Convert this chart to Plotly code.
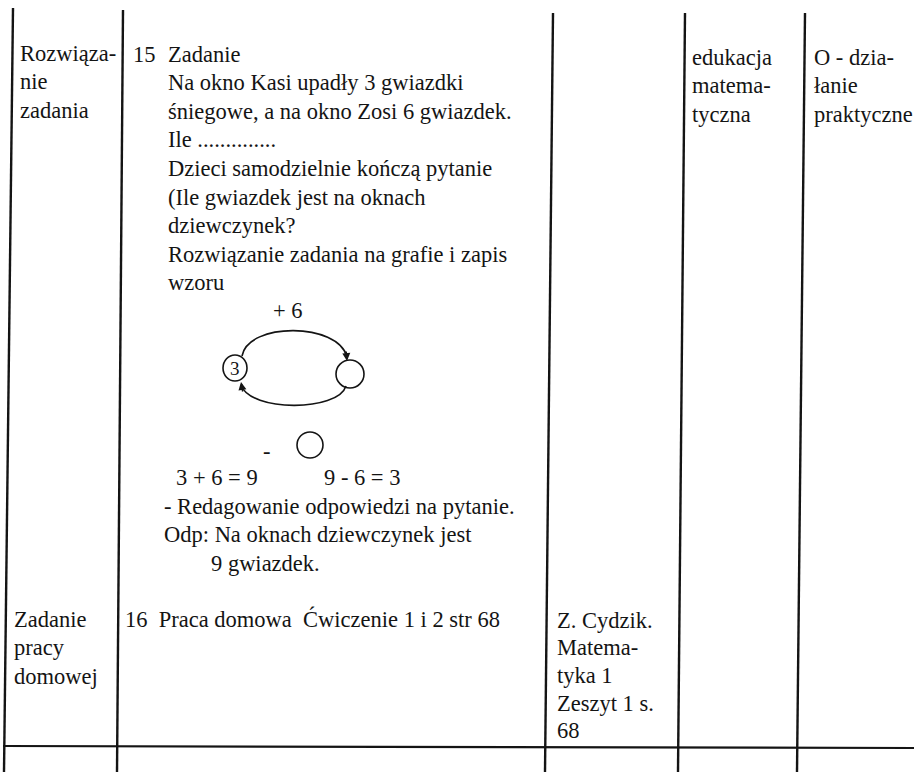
"""Scanned lesson-plan table fragment (Polish maths lesson), redrawn with Plotly."""

import plotly.graph_objects as go

# --- cell contents -------------------------------------------------------
PHASE_ROW1 = ["Rozwiąza-", "nie", "zadania"]
PHASE_ROW2 = ["Zadanie", "pracy", "domowej"]

STEP_ROW1 = "15"
TASK_LINES = [
    "Zadanie",
    "Na okno Kasi upadły 3 gwiazdki",
    "śniegowe, a na okno Zosi 6 gwiazdek.",
    "Ile ..............",
    "Dzieci samodzielnie kończą pytanie",
    "(Ile gwiazdek jest na oknach",
    "dziewczynek?",
    "Rozwiązanie zadania na grafie i zapis",
    "wzoru",
]
GRAPH_OP = "+ 6"
GRAPH_START = "3"
GRAPH_MINUS = "-"
EQUATIONS = ["3 + 6 = 9", "9 - 6 = 3"]
ANSWER_LINES = [
    "- Redagowanie odpowiedzi na pytanie.",
    "Odp: Na oknach dziewczynek jest",
]
ANSWER_TAIL = "9 gwiazdek."
HOMEWORK = "16  Praca domowa  Ćwiczenie 1 i 2 str 68"

AREA_ROW1 = ["edukacja", "matema-", "tyczna"]
AREA_ROW2 = ["Z. Cydzik.", "Matema-", "tyka 1", "Zeszyt 1 s.", "68"]
FORM_ROW1 = ["O - dzia-", "łanie", "praktyczne"]

# --- table rules (the scan is slightly skewed) ---------------------------
RULE_TOP_X = [13, 123, 553, 685, 805]
RULE_BOTTOM_X = [4, 117, 545, 678, 797]
RULE_TOP_Y = [8, 10, 13, 13, 13]
ROW_RULE_Y = (746, 748)

W, H = 914, 772
FONT = "Liberation Serif"
SIZE = 22.5
INK = "#141414"
LEAD = 28.6

fig = go.Figure()


def write(x, y, text, size=SIZE, anchor="left"):
    fig.add_annotation(
        x=x, y=y, text=text, showarrow=False, xanchor=anchor, yanchor="middle",
        font=dict(size=size, color=INK),
    )


def write_block(x, y0, lines, lead=LEAD):
    for i, line in enumerate(lines):
        write(x, y0 + i * lead, line)


# first row
write_block(18, 53, PHASE_ROW1)
write(131, 54, STEP_ROW1)
write_block(166, 54, TASK_LINES)
write_block(690, 57, AREA_ROW1)
write_block(812, 57, FORM_ROW1)

# graph: 3 --(+6)--> ? and back
write(288, 310, GRAPH_OP, anchor="center")
fig.add_shape(type="circle", x0=223, x1=247, y0=355, y1=381, line=dict(color=INK, width=1.6))
write(235, 368, GRAPH_START, size=19, anchor="center")
fig.add_shape(type="circle", x0=336, x1=364, y0=360, y1=388, line=dict(color=INK, width=1.6))
fig.add_shape(
    type="path", path="M 242,356 C 248,322 338,322 347,357",
    line=dict(color=INK, width=1.6),
)
fig.add_shape(
    type="path", path="M 346,386 C 338,412 250,412 241,385",
    line=dict(color=INK, width=1.6),
)
fig.add_annotation(
    x=347, y=361, ax=346, ay=350, axref="x", ayref="y", text="", showarrow=True,
    arrowhead=2, arrowsize=1, arrowwidth=1.6, arrowcolor=INK,
)
fig.add_annotation(
    x=241, y=382, ax=243, ay=393, axref="x", ayref="y", text="", showarrow=True,
    arrowhead=2, arrowsize=1, arrowwidth=1.6, arrowcolor=INK,
)
write(267, 451, GRAPH_MINUS, anchor="center")
fig.add_shape(type="circle", x0=297, x1=323, y0=432, y1=458, line=dict(color=INK, width=1.6))

write(174, 477, EQUATIONS[0])
write(322, 477, EQUATIONS[1])
write_block(162, 506, ANSWER_LINES)
write(209, 563, ANSWER_TAIL)

# second row
write_block(12, 619, PHASE_ROW2)
write(123, 619, HOMEWORK)
write_block(555, 620, AREA_ROW2, lead=27.7)

# rules
for xt, xb, yt in zip(RULE_TOP_X, RULE_BOTTOM_X, RULE_TOP_Y):
    fig.add_shape(type="line", x0=xt, y0=yt, x1=xb, y1=H, line=dict(color=INK, width=2.4))
fig.add_shape(
    type="line", x0=3, y0=ROW_RULE_Y[0], x1=W, y1=ROW_RULE_Y[1],
    line=dict(color=INK, width=2.2),
)

fig.update_xaxes(range=[0, W], visible=False, fixedrange=True)
fig.update_yaxes(range=[H, 0], visible=False, fixedrange=True)
fig.update_layout(
    width=W, height=H, margin=dict(l=0, r=0, t=0, b=0),
    font=dict(family=FONT, color=INK),
    paper_bgcolor="white", plot_bgcolor="white", showlegend=False,
)
# the page's default body margin would push the 914px figure out of the window
fig.write_html(
    "out.html",
    config=dict(displayModeBar=False),
    post_script="document.body.style.margin = '0'; document.body.style.overflow = 'hidden';",
)
